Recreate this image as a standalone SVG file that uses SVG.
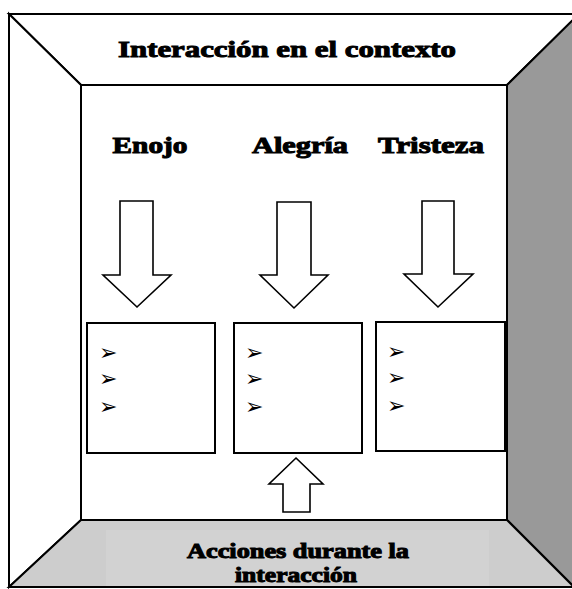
<svg xmlns="http://www.w3.org/2000/svg" width="572" height="589" viewBox="0 0 572 589">
<style>
.wall{stroke:#000;stroke-width:2;stroke-linejoin:miter}
.box{fill:#fff;stroke:#000;stroke-width:2}
.arrow{fill:#fff;stroke:#000;stroke-width:1.6;stroke-linejoin:miter}
.t{font-family:"Liberation Serif",serif;font-weight:bold;fill:#000;stroke:#000;stroke-width:1}
.b{font-family:"DejaVu Sans",sans-serif;font-size:22px;fill:#000}
</style>
<rect width="572" height="589" fill="#fff"/>
<g id="room">
<polygon class="wall" points="9,14 579,14 507,85 81,85" fill="#fff"/>
<polygon class="wall" points="9,14 81,85 81,520 9,587" fill="#fff"/>
<polygon class="wall" points="579,14 507,85 507,520 576,589" fill="#999"/>
<polygon class="wall" points="81,520 507,520 574,587 9,587" fill="#cdcdcd"/>
<rect x="106" y="530" width="383" height="56" fill="#d2d2d2"/>
<rect class="wall" x="81" y="85" width="426" height="435" fill="#fff"/>
</g>
<g id="title-top">
<text class="t" x="287" y="57" font-size="24" text-anchor="middle" textLength="338" lengthAdjust="spacingAndGlyphs">Interacción en el contexto</text>
</g>
<g id="title-bottom">
<text class="t" x="298" y="558" font-size="20" text-anchor="middle" textLength="222" lengthAdjust="spacingAndGlyphs">Acciones durante la</text>
<text class="t" x="296" y="582" font-size="20" text-anchor="middle" textLength="122" lengthAdjust="spacingAndGlyphs">interacción</text>
</g>
<g id="enojo">
<text class="t" x="150" y="153" font-size="23" text-anchor="middle" textLength="75" lengthAdjust="spacingAndGlyphs">Enojo</text>
</g>
<g id="alegria">
<text class="t" x="300" y="153" font-size="23" text-anchor="middle" textLength="96" lengthAdjust="spacingAndGlyphs">Alegría</text>
</g>
<g id="tristeza">
<text class="t" x="431" y="153" font-size="23" text-anchor="middle" textLength="106" lengthAdjust="spacingAndGlyphs">Tristeza</text>
</g>
<g id="connectors">
<polygon class="arrow" points="120,201 153,201 153,275 171,275 137,307 103,275 120,275"/>
<polygon class="arrow" points="277,202 311,202 311,275 328,275 294,308 260,275 277,275"/>
<polygon class="arrow" points="422,201 454,201 454,274 473,274 438,307 404,274 422,274"/>
<polygon class="arrow" points="296,458 323,484 310,484 310,512 283,512 283,484 269,484"/>
</g>
<g id="box-enojo">
<rect class="box" x="87" y="323" width="128" height="130"/>
<text class="b" x="99" y="360">➢</text>
<text class="b" x="99" y="386">➢</text>
<text class="b" x="99" y="414">➢</text>
</g>
<g id="box-alegria">
<rect class="box" x="234" y="323" width="128" height="130"/>
<text class="b" x="245" y="360">➢</text>
<text class="b" x="245" y="386">➢</text>
<text class="b" x="245" y="414">➢</text>
</g>
<g id="box-tristeza">
<rect class="box" x="376" y="322" width="129" height="129"/>
<text class="b" x="387" y="359">➢</text>
<text class="b" x="387" y="385">➢</text>
<text class="b" x="387" y="413">➢</text>
</g>
</svg>
